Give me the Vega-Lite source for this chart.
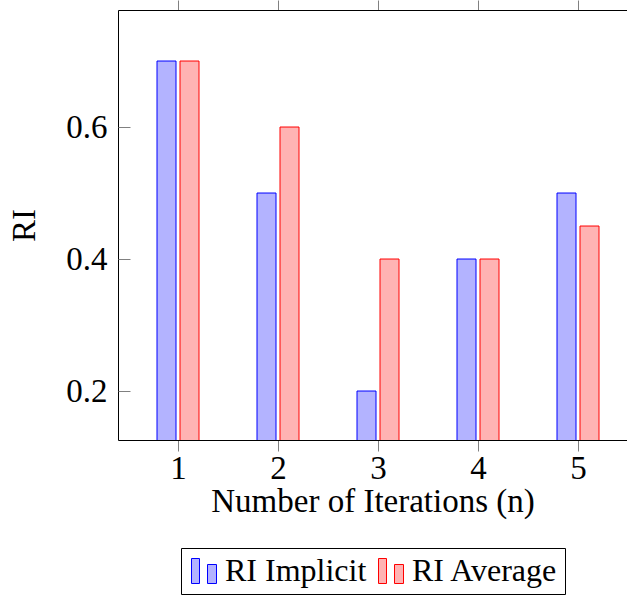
{
  "$schema": "https://vega.github.io/schema/vega-lite/v6.json",
  "width": 509,
  "height": 430,
  "autosize": {"type": "none"},
  "padding": {"left": 118, "top": 10, "right": 0, "bottom": 157},
  "background": "white",
  "config": {
    "font": "Liberation Serif",
    "view": {"stroke": null},
    "axis": {
      "grid": false,
      "labelFontSize": 33,
      "titleFontSize": 33,
      "titleFontWeight": "normal",
      "labelColor": "black",
      "titleColor": "black",
      "domainColor": "black",
      "domainWidth": 1,
      "tickColor": "#808080",
      "tickWidth": 1
    },
    "legend": {
      "orient": "none",
      "legendX": 63,
      "legendY": 538,
      "direction": "horizontal",
      "columns": 2,
      "title": null,
      "symbolType": "M-1,-1H-0.36V1H-1Z M0.28,-0.52H1V1H0.28Z",
      "symbolSize": 625,
      "symbolStrokeWidth": 1,
      "symbolOpacity": 1,
      "labelFontSize": 32,
      "labelColor": "black",
      "labelOffset": 5,
      "labelLimit": 0,
      "columnPadding": 8,
      "padding": 7,
      "strokeColor": "black",
      "cornerRadius": 0
    }
  },
  "resolve": {"axis": {"y": "independent"}},
  "data": {
    "values": [
      {"n": 1, "series": "RI Implicit", "RI": 0.7},
      {"n": 2, "series": "RI Implicit", "RI": 0.5},
      {"n": 3, "series": "RI Implicit", "RI": 0.2},
      {"n": 4, "series": "RI Implicit", "RI": 0.4},
      {"n": 5, "series": "RI Implicit", "RI": 0.5},
      {"n": 1, "series": "RI Average", "RI": 0.7},
      {"n": 2, "series": "RI Average", "RI": 0.6},
      {"n": 3, "series": "RI Average", "RI": 0.4},
      {"n": 4, "series": "RI Average", "RI": 0.4},
      {"n": 5, "series": "RI Average", "RI": 0.45}
    ]
  },
  "encoding": {
    "fill": {"field": "series", "type": "nominal", "scale": {"domain": ["RI Implicit", "RI Average"], "range": ["#b3b3ff", "#ffb3b3"]}},
    "stroke": {"field": "series", "type": "nominal", "scale": {"domain": ["RI Implicit", "RI Average"], "range": ["#0000ff", "#ff0000"]}}
  },
  "layer": [
    {
      "transform": [{"filter": "datum.series === 'RI Implicit'"}],
      "mark": {"type": "bar", "width": 19, "xOffset": -11.5, "clip": true, "strokeWidth": 1, "fillOpacity": 1},
      "encoding": {
        "x": {
          "field": "n", "type": "quantitative",
          "scale": {"domain": [0.4, 5.49], "nice": false, "zero": false, "padding": 0},
          "axis": {"orient": "bottom", "values": [1, 2, 3, 4, 5], "format": "d", "title": "Number of Iterations (n)", "tickSize": 11, "labelPadding": 1, "titlePadding": 0}
        },
        "y": {
          "field": "RI", "type": "quantitative",
          "scale": {"domain": [0.1258, 0.7773], "nice": false, "zero": false, "padding": 0},
          "axis": {"orient": "left", "values": [0.2, 0.4, 0.6], "format": ".1f", "title": "RI", "ticks": false, "tickSize": 0, "labelPadding": 11, "titlePadding": 24}
        }
      }
    },
    {
      "transform": [{"filter": "datum.series === 'RI Average'"}],
      "mark": {"type": "bar", "width": 19, "xOffset": 11.5, "clip": true, "strokeWidth": 1, "fillOpacity": 1},
      "encoding": {
        "x": {
          "field": "n", "type": "quantitative",
          "scale": {"domain": [0.4, 5.49], "nice": false, "zero": false, "padding": 0},
          "axis": {"orient": "top", "values": [1, 2, 3, 4, 5], "labels": false, "title": null, "tickSize": 10}
        },
        "y": {
          "field": "RI", "type": "quantitative",
          "scale": {"domain": [0.1258, 0.7773], "nice": false, "zero": false, "padding": 0},
          "axis": {"orient": "right", "values": [0.2, 0.4, 0.6], "labels": false, "domain": false, "title": null, "ticks": true, "tickSize": 12, "offset": -509}
        }
      }
    }
  ]
}
